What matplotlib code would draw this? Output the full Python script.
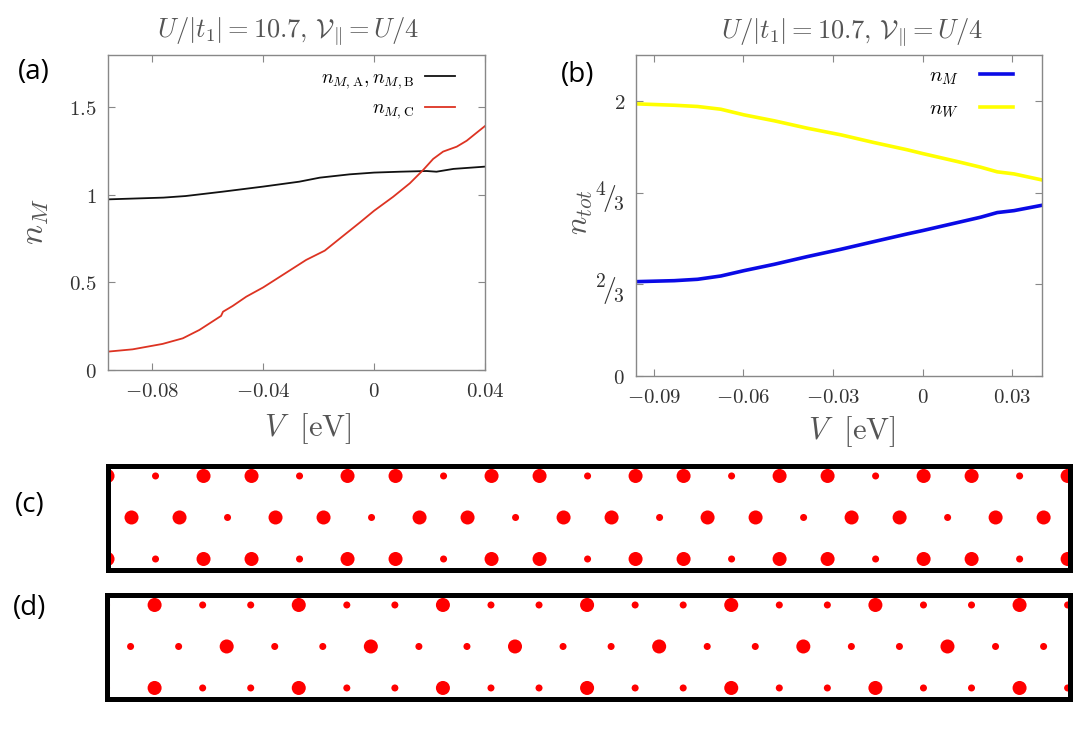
import numpy as np
import matplotlib
matplotlib.use("Agg")
import matplotlib.pyplot as plt

plt.rcParams["mathtext.fontset"] = "cm"

# panel (a): sublattice densities vs V
v_a = [-0.096, -0.076, -0.068, -0.0546, -0.040, -0.027, -0.0196, -0.0088, 0.0, 0.0093,
       0.0189, 0.0225, 0.0286, 0.040]
n_ab = [0.975, 0.985, 0.994, 1.019, 1.048, 1.076, 1.099, 1.118, 1.128, 1.133,
        1.137, 1.133, 1.149, 1.162]
v_c = [-0.096, -0.0871, -0.0763, -0.069, -0.063, -0.0552, -0.0545, -0.051, -0.0461, -0.040,
       -0.0317, -0.0245, -0.0178, -0.0112, -0.0052, 0.0, 0.0069, 0.0129, 0.0177, 0.0213,
       0.0249, 0.0298, 0.0334, 0.037, 0.040]
n_c = [0.105, 0.118, 0.149, 0.181, 0.229, 0.309, 0.333, 0.366, 0.419, 0.472,
       0.556, 0.629, 0.682, 0.766, 0.842, 0.910, 0.990, 1.067, 1.143, 1.206,
       1.248, 1.276, 1.310, 1.356, 1.394]

# panel (b): total densities vs V
v_b = [-0.0957, -0.0832, -0.0754, -0.0676, -0.0598, -0.0497, -0.0386, -0.0274, -0.0163,
       -0.0051, 0.0, 0.0116, 0.0194, 0.025, 0.0306, 0.040]
n_w = [1.978, 1.968, 1.959, 1.939, 1.898, 1.855, 1.801, 1.753, 1.697,
       1.644, 1.617, 1.559, 1.518, 1.484, 1.469, 1.425]
n_m = [0.686, 0.693, 0.703, 0.727, 0.766, 0.812, 0.868, 0.921, 0.977,
       1.033, 1.057, 1.115, 1.154, 1.188, 1.202, 1.241]

xticks_a = [-0.08, -0.04, 0, 0.04]
xticklabels_a = ["$-0.08$", "$-0.04$", "$0$", "$0.04$"]
yticks_a = [0, 0.5, 1, 1.5]
yticklabels_a = ["$0$", "$0.5$", "$1$", "$1.5$"]
xticks_b = [-0.09, -0.06, -0.03, 0, 0.03]
xticklabels_b = ["$-0.09$", "$-0.06$", "$-0.03$", "$0$", "$0.03$"]
yticks_b = [0, 2 / 3, 4 / 3, 2]
yticklabels_b = ["$0$", r"$^{2}\!/\!_{3}$", r"$^{4}\!/\!_{3}$", "$2$"]

# panels (c), (d): triangular strip, relative site densities for sublattices A, B, C
row_offsets = [0.0, 0.5, 0.0]
row_sites = [21, 20, 21]
row_patterns = [["A", "C", "B"], ["A", "B", "C"], ["A", "C", "B"]]
density_c = {"A": 1.0, "B": 1.0, "C": 0.25}
density_d = {"A": 0.25, "B": 0.25, "C": 1.0}

title = r"$U/|t_1| = 10.7,\, \mathcal{V}_{\Vert} = U/4$"
grey = "#555555"
tick_col = "#333333"
frame_col = "#888888"


def style_axes(ax):
    for s in ax.spines.values():
        s.set_color(frame_col)
        s.set_linewidth(1.0)
    ax.tick_params(direction="in", top=True, right=True, length=5, width=0.8,
                   color=frame_col, labelsize=15, labelcolor=tick_col, pad=8)


fig = plt.figure(figsize=(10.85, 7.44), dpi=100)

# (a)
ax1 = fig.add_axes([0.0995, 0.5027, 0.3475, 0.4234])
ax1.plot(v_a, n_ab, color="#111111", lw=1.3, label=r"$n_{M,\mathrm{A}},n_{M,\mathrm{B}}$")
ax1.plot(v_c, n_c, color="#dd3322", lw=1.3, label=r"$n_{M,\mathrm{C}}$")
ax1.set_xlim(-0.096, 0.04)
ax1.set_ylim(0, 1.8)
ax1.set_xticks(xticks_a, xticklabels_a)
ax1.set_yticks(yticks_a, yticklabels_a)
style_axes(ax1)
ax1.set_ylabel(r"$n_M$", fontsize=24, color=grey)
ax1.yaxis.set_label_coords(-0.15, 0.47)
ax1.set_xlabel(r"$V\ \ [\mathrm{eV}]$", fontsize=22, color=grey)
ax1.xaxis.set_label_coords(0.53, -0.13)
ax1.text(0.477, 1.073, title, transform=ax1.transAxes, ha="center", va="center",
         fontsize=19, color=grey)
ax1.legend(loc="upper right", bbox_to_anchor=(0.945, 0.99), frameon=False, markerfirst=False,
           fontsize=14, handlelength=1.5, borderpad=0, labelspacing=0.4, handletextpad=0.6)

# (b)
ax2 = fig.add_axes([0.5862, 0.4946, 0.3742, 0.4315])
ax2.plot(v_b, n_m, color="#0a0ae6", lw=2.6, label=r"$n_M$")
ax2.plot(v_b, n_w, color="#ffff00", lw=2.6, label=r"$n_W$")
ax2.set_xlim(-0.096, 0.04)
ax2.set_ylim(0, 7 / 3)
ax2.set_xticks(xticks_b, xticklabels_b)
ax2.set_yticks(yticks_b, yticklabels_b)
style_axes(ax2)
for lab in ax2.get_yticklabels()[1:3]:
    lab.set_fontsize(20)
ax2.set_ylabel(r"$n_{tot}$", fontsize=22, color=grey)
ax2.yaxis.set_label_coords(-0.10, 0.51)
ax2.set_xlabel(r"$V\ \ [\mathrm{eV}]$", fontsize=22, color=grey)
ax2.xaxis.set_label_coords(0.532, -0.12)
ax2.text(0.532, 1.069, title, transform=ax2.transAxes, ha="center", va="center",
         fontsize=19, color=grey)
ax2.legend(loc="upper right", bbox_to_anchor=(0.955, 1.0), frameon=False, markerfirst=False,
           fontsize=15, handlelength=1.6, borderpad=0, labelspacing=0.55, handletextpad=1.0)


def draw_strip(ax, density):
    xs, ys, ss = [], [], []
    for r, (off, n, pat) in enumerate(zip(row_offsets, row_sites, row_patterns)):
        y = (2 - r) * np.sqrt(3) / 2
        for k in range(n):
            xs.append(off + k)
            ys.append(y)
            ss.append(density[pat[k % 3]] * 102)
    ax.scatter(xs, ys, s=ss, color="#ff0000", linewidths=0)
    ax.set_xlim(0, 20.05)
    ax.set_xticks([])
    ax.set_yticks([])
    for s in ax.spines.values():
        s.set_linewidth(3.6)
        s.set_color("black")


ax3 = fig.add_axes([0.0991, 0.2332, 0.8871, 0.1411])
draw_strip(ax3, density_c)
ax3.set_ylim(-0.24, 1.95)

ax4 = fig.add_axes([0.0982, 0.0605, 0.888, 0.1391])
draw_strip(ax4, density_d)
ax4.set_ylim(-0.23, 1.93)

for lab, x, y in [("(a)", 34, 72), ("(b)", 578, 75), ("(c)", 30, 505), ("(d)", 30, 608)]:
    fig.text(x / 1085, 1 - y / 744, lab, ha="center", va="center", fontsize=20,
             family=["Open Sans", "DejaVu Sans"])

fig.savefig("out.png", dpi=100)
